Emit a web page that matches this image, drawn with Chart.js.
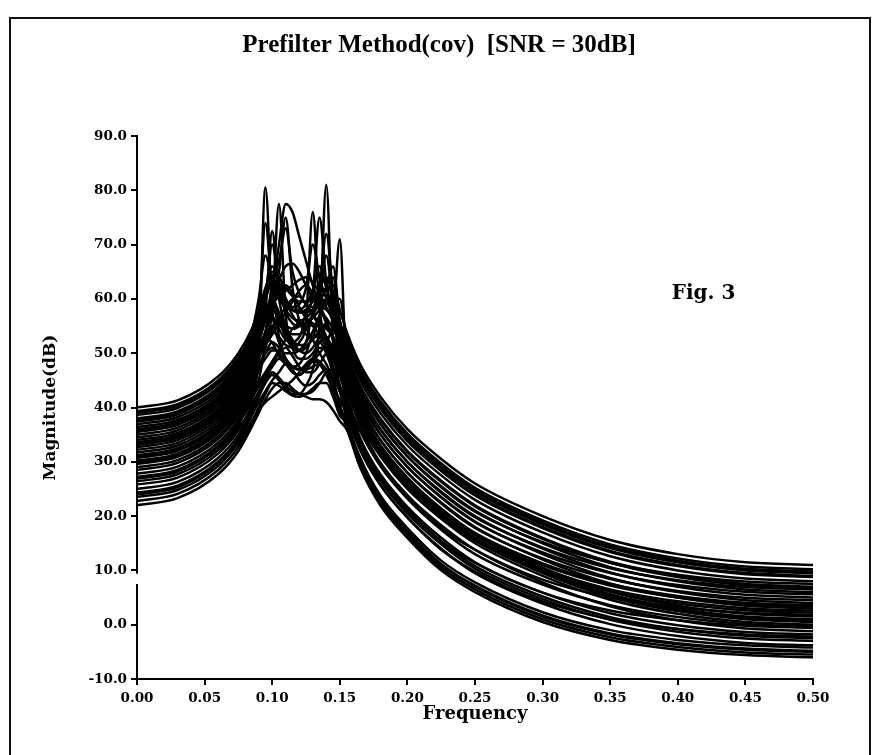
<!DOCTYPE html>
<html><head><meta charset="utf-8">
<script src="https://cdn.jsdelivr.net/npm/chart.js@4.4.1/dist/chart.umd.min.js"></script>
<style>
html,body{margin:0;padding:0;background:#fff;}
#wrap{position:relative;width:878px;height:755px;overflow:hidden;}
#frame{position:absolute;left:9px;top:17px;width:858px;height:780px;border:2px solid #111;border-bottom:none;pointer-events:none;}
canvas{position:absolute;left:0;top:0;}
</style></head>
<body><div id="wrap"><canvas id="c" width="878" height="755"></canvas><div id="frame"></div></div>
<script>
// Frequency grid (shared x values of every curve)
const freq = [0, 0.03, 0.06, 0.075, 0.085, 0.09, 0.095, 0.1, 0.105, 0.11, 0.115, 0.12, 0.125, 0.13, 0.135, 0.14, 0.145, 0.15, 0.155, 0.165, 0.18, 0.2, 0.225, 0.25, 0.3, 0.35, 0.4, 0.45, 0.5];

// Magnitude (dB) of each estimated spectrum
const curve01 = [22, 23.3, 27.7, 32, 36.5, 39, 41.5, 43.5, 44.5, 44.5, 43.5, 42.5, 42, 41.5, 41.5, 41, 39.5, 37.5, 36, 29, 22, 16, 10, 6, 0.5, -2.8, -4.6, -5.6, -6];
const curve02 = [22.8, 24.1, 28.5, 32.8, 37.3, 40, 42.5, 44.5, 44, 43, 42.2, 42, 42.5, 43.5, 44.5, 44.5, 42, 38.5, 37.2, 30.2, 23.2, 17.2, 11.2, 7.2, 1.7, -1.6, -3.4, -4.4, -4.8];
const curve03 = [23.5, 24.8, 29.2, 33.5, 37.5, 39.5, 41, 42, 43, 44, 45, 46.5, 48, 49, 48.5, 46.5, 43, 39.5, 36.5, 29.5, 22.5, 16.5, 10.5, 6.5, 1, -2.3, -4.1, -5.1, -5.5];
const curve04 = [24.3, 25.6, 30, 34.3, 38.8, 42, 45, 46.5, 45.5, 44, 43, 42.5, 42.5, 43, 44.5, 46.5, 47, 43, 38.7, 32.2, 25.7, 19.7, 14, 9.5, 3.9, 0.1, -2.1, -3.35, -3.8];
const curve05 = [25, 26.3, 30.7, 35, 39.5, 42, 44.5, 46, 45, 43.5, 42.5, 42.5, 44, 47, 55, 81, 52, 44, 37.8, 30.8, 23.8, 17.8, 11.8, 7.8, 2.3, -1, -2.8, -3.8, -4.2];
const curve06 = [25.8, 27.1, 31.5, 35.8, 40.3, 43, 45.5, 47.5, 49, 48, 46.5, 46, 47, 48.5, 48, 46, 43.5, 41.5, 39.5, 33.5, 27, 21, 15.3, 10.8, 5.2, 1.4, -0.8, -2.05, -2.5];
const curve07 = [26.4, 27.7, 32.1, 36.4, 41, 50, 80.5, 58, 52, 49, 47.5, 47, 47, 47.5, 48, 47, 44.5, 41, 39.5, 33, 26.5, 20.5, 14.8, 10.3, 4.7, 0.9, -1.3, -2.55, -3];
const curve08 = [27.2, 28.5, 32.9, 37.2, 41.7, 44, 46, 48, 50, 51, 49.5, 47.5, 46.5, 46.5, 48, 50, 50.5, 46, 41.8, 35.8, 29.8, 23.8, 18.3, 13.8, 7.8, 3.4, 0.8, -0.7, -1.2];
const curve09 = [27.8, 29.1, 33.5, 37.8, 42.3, 44.5, 46.5, 48.5, 50.5, 52.5, 54.5, 55.5, 54.5, 52.5, 50, 48, 45.5, 43, 40.7, 34.2, 27.7, 21.7, 16, 11.5, 5.9, 2.1, -0.1, -1.35, -1.8];
const curve10 = [28.5, 29.8, 34.2, 38.5, 43, 47, 51, 58, 77.5, 57, 51, 49, 49, 50, 52, 53, 50, 46, 43, 37, 31, 25, 19.5, 15, 9, 4.6, 2, 0.5, 0];
const curve11 = [29, 30.3, 34.7, 39, 43.5, 47, 50, 52, 51, 49, 47.5, 47, 47.5, 49, 51, 50.5, 47.5, 44, 41.4, 34.4, 27.4, 21.4, 15.4, 11.4, 5.9, 2.6, 0.8, -0.2, -0.6];
const curve12 = [29.6, 30.9, 35.3, 39.6, 44.5, 50, 54, 61, 70, 77.5, 76, 71.5, 67, 62.5, 59, 56, 52.5, 48, 43.8, 37.8, 31.8, 25.8, 20.3, 15.8, 9.8, 5.4, 2.8, 1.3, 0.8];
const curve13 = [30.2, 31.5, 35.9, 40.2, 44.7, 49, 52.5, 52, 49.5, 48, 47.5, 48, 50, 53, 53, 51, 48.5, 46.5, 44.5, 38.5, 32.5, 26.5, 21, 16.5, 10.5, 6.1, 3.5, 2, 1.5];
const curve14 = [30.7, 32, 36.4, 40.7, 45.2, 48, 50, 51, 50, 48.5, 47.5, 47, 47.5, 48.5, 50, 52, 56, 71, 46, 38, 31.5, 25.5, 20, 15.5, 9.5, 5.1, 2.5, 1, 0.5];
const curve15 = [31.2, 32.5, 36.9, 41.2, 45.7, 49, 51.5, 53.5, 55, 54, 52, 50.5, 50, 51, 53, 55, 53, 48.5, 44.7, 38.2, 31.7, 25.7, 20, 15.5, 9.9, 6.1, 3.9, 2.65, 2.2];
const curve16 = [31.7, 33, 37.4, 41.7, 46.2, 49.5, 52, 54, 53, 51.5, 51, 52, 56, 76, 58, 53, 50, 47, 43.8, 36.8, 29.8, 23.8, 17.8, 13.8, 8.3, 5, 3.2, 2.2, 1.8];
const curve17 = [32.2, 33.5, 37.9, 42.2, 46.7, 49.5, 51.5, 53.5, 55.5, 57.5, 59.5, 61.5, 62.5, 61, 58.5, 55.5, 52.5, 49.5, 46, 40, 34, 28, 22.5, 18, 12, 7.6, 5, 3.5, 3];
const curve18 = [32.7, 34, 38.4, 42.7, 47.2, 51, 54, 58, 65, 75, 62, 56, 53.5, 53, 54, 55.5, 55, 50.5, 45.1, 38.6, 32.1, 26.1, 20.4, 15.9, 10.3, 6.5, 4.3, 3.05, 2.6];
const curve19 = [33.1, 34.4, 38.8, 43.1, 47.6, 52, 56, 60, 57.5, 54, 51.5, 50.5, 51, 53, 56.5, 60, 56, 50.5, 47, 41, 35, 29, 23.5, 19, 13, 8.6, 6, 4.5, 4];
const curve20 = [33.6, 34.9, 39.3, 43.6, 48.1, 53, 58, 72.5, 60, 55, 52.5, 51.5, 51.5, 52.5, 54, 55, 53, 49.5, 46.1, 39.6, 33.1, 27.1, 21.4, 16.9, 11.3, 7.5, 5.3, 4.05, 3.6];
const curve21 = [34, 35.3, 39.7, 44, 48.5, 51.5, 53.5, 55, 55.5, 55, 54.5, 55, 57, 61, 75, 63, 56, 51.5, 48, 42, 36, 30, 24.5, 20, 14, 9.6, 7, 5.5, 5];
const curve22 = [34.5, 35.8, 40.2, 44.5, 49, 54, 57.5, 57, 54.5, 52.5, 52, 53, 55.5, 55, 53.5, 52.5, 51, 49, 47, 40.5, 34, 28, 22.3, 17.8, 12.2, 8.4, 6.2, 4.95, 4.5];
const curve23 = [35, 36.3, 40.7, 45, 49.5, 53, 56, 59, 61.5, 62.5, 61, 58.5, 56.5, 55.5, 55, 54.5, 53, 51, 49, 43, 37, 31, 25.5, 21, 15, 10.6, 8, 6.5, 6];
const curve24 = [35.5, 36.8, 41.2, 45.5, 50, 56, 74, 61, 56.5, 54.5, 53.5, 53.5, 54.5, 57, 61, 68, 59, 53, 48.1, 41.6, 35.1, 29.1, 23.4, 18.9, 13.3, 9.5, 7.3, 6.05, 5.6];
const curve25 = [36, 37.3, 41.7, 46, 50.5, 55, 60, 70, 62, 57.5, 55.5, 55, 55.5, 57, 59.5, 62, 66, 56, 50, 44, 38, 32, 26.5, 22, 16, 11.6, 9, 7.5, 7];
const curve26 = [36.4, 37.7, 42.1, 46.4, 51, 54.5, 57.5, 60.5, 63.5, 66, 66.5, 65, 62.5, 60, 58, 56.5, 54.5, 52, 49, 42.5, 36, 30, 24.3, 19.8, 14.2, 10.4, 8.2, 6.95, 6.5];
const curve27 = [36.9, 38.2, 42.6, 46.9, 51.4, 56, 60, 64, 61, 58, 56.5, 56, 56.5, 58, 62, 72, 61, 55, 51, 45, 39, 33, 27.5, 23, 17, 12.6, 10, 8.5, 8];
const curve28 = [37.4, 38.7, 43.1, 47.4, 52, 55.5, 58, 60, 60.5, 59.5, 58.5, 59, 62, 70, 64, 60, 57, 54, 50, 43.5, 37, 31, 25.3, 20.8, 15.2, 11.4, 9.2, 7.95, 7.5];
const curve29 = [38, 39.3, 43.7, 48, 52.5, 57, 61.5, 66, 63, 60, 58, 57.5, 58, 59.5, 62, 64, 61, 56, 51.8, 45.8, 39.8, 33.8, 28.3, 23.8, 17.8, 13.4, 10.8, 9.3, 8.8];
const curve30 = [38.6, 39.9, 44.3, 48.6, 53, 57.5, 61, 64, 67, 73, 65, 61, 59, 58.5, 58.5, 58, 56.5, 54.5, 52.5, 46.5, 40.5, 34.5, 29, 24.5, 18.5, 14.1, 11.5, 10, 9.5];
const curve31 = [39.3, 40.6, 45, 49.3, 54, 60, 68, 63, 60, 58.5, 58, 58, 59, 61.5, 66, 62, 58, 55, 53.2, 47.2, 41.2, 35.2, 29.7, 25.2, 19.2, 14.8, 12.2, 10.7, 10.2];
const curve32 = [40, 41.3, 45.7, 50, 54.5, 58, 62, 65, 64, 62, 60.5, 59.5, 59.5, 60, 61, 62, 62.5, 58, 54, 48, 42, 36, 30.5, 26, 20, 15.6, 13, 11.5, 11];
const curve33 = [31, 32.3, 36.7, 41, 45.5, 49.5, 53.5, 58, 56, 53, 51, 50.5, 52, 57, 55, 52, 49, 46, 44, 38, 32, 26, 20.5, 16, 10, 5.6, 3, 1.5, 1];
const curve34 = [33.3, 34.6, 39, 43.3, 47.8, 50.5, 52.5, 54.5, 56.5, 58.5, 60, 60.5, 59, 57, 55, 53, 51, 48.5, 45.8, 39.3, 32.8, 26.8, 21.1, 16.6, 11, 7.2, 5, 3.75, 3.3];
const curve35 = [29.9, 31.2, 35.6, 39.9, 44.4, 47, 49, 50.5, 50.5, 50, 50, 50.5, 52, 54, 57, 60, 64, 52, 42.2, 35.7, 29.2, 23.2, 17.5, 13, 7.4, 3.6, 1.4, 0.15, -0.3];
const curve36 = [26.9, 28.2, 32.6, 36.9, 41.4, 45, 52, 62, 53, 48.5, 46.5, 46, 47, 49, 52, 50, 46.5, 43, 39.8, 32.8, 25.8, 19.8, 13.8, 9.8, 4.3, 1, -0.8, -1.8, -2.2];
const curve37 = [35.8, 37.1, 41.5, 45.8, 50.3, 54, 57.5, 61, 64, 60, 57, 55.5, 55.5, 56.5, 58, 60, 57.5, 53, 49.8, 43.8, 37.8, 31.8, 26.3, 21.8, 15.8, 11.4, 8.8, 7.3, 6.8];
const curve38 = [37.7, 39, 43.4, 47.7, 52.2, 55.5, 57.5, 59, 60.5, 61.5, 62.5, 63.5, 64, 63, 61, 58.5, 56, 53.5, 52, 46, 40, 34, 28.5, 24, 18, 13.6, 11, 9.5, 9];
const curve39 = [24, 25.3, 29.7, 34, 38.5, 41, 43, 45, 46.5, 48, 47, 45, 44, 44.5, 46, 47, 45, 40.5, 37, 30, 23, 17, 11, 7, 1.5, -1.8, -3.6, -4.6, -5];
const curve40 = [39, 40.3, 44.7, 49, 53.5, 57, 60, 63, 61.5, 59.5, 58, 57.5, 57.5, 58, 58.5, 59, 60, 60, 52.8, 46.8, 40.8, 34.8, 29.3, 24.8, 18.8, 14.4, 11.8, 10.3, 9.8];

const curves = [curve01, curve02, curve03, curve04, curve05, curve06, curve07, curve08,
  curve09, curve10, curve11, curve12, curve13, curve14, curve15, curve16,
  curve17, curve18, curve19, curve20, curve21, curve22, curve23, curve24,
  curve25, curve26, curve27, curve28, curve29, curve30, curve31, curve32,
  curve33, curve34, curve35, curve36, curve37, curve38, curve39, curve40];

// Axis ticks
const xTickValues = [0, 0.05, 0.1, 0.15, 0.2, 0.25, 0.3, 0.35, 0.4, 0.45, 0.5];
const xTickLabels = ['0.00', '0.05', '0.10', '0.15', '0.20', '0.25', '0.30', '0.35', '0.40', '0.45', '0.50'];
const yTickValues = [-10, 0, 10, 20, 30, 40, 50, 60, 70, 80, 90];
const yTickLabels = ['-10.0', '0.0', '10.0', '20.0', '30.0', '40.0', '50.0', '60.0', '70.0', '80.0', '90.0'];

const titleText = 'Prefilter Method(cov)  [SNR = 30dB]';
const xTitle = 'Frequency';
const yTitle = 'Magnitude(dB)';
const figText = 'Fig. 3';
const figPos = {x: 0.3955, y: 61};
const axisBreak = {from: 9.4, to: 7.5};

const serif = "'DejaVu Serif', 'Liberation Serif', serif";
const times = "'Liberation Serif', 'DejaVu Serif', serif";

const datasets = curves.map((arr, i) => ({
  label: 'Spectrum ' + (i + 1),
  data: arr.map((v, j) => ({x: freq[j], y: v})),
  borderColor: '#000',
  borderWidth: 2.5,
  pointRadius: 0,
  fill: false,
  cubicInterpolationMode: 'monotone'
}));

const extras = {
  id: 'extras',
  afterDraw(chart) {
    const {ctx, scales: {x, y}, chartArea} = chart;
    ctx.save();
    // break in the y axis line
    const t = y.getPixelForValue(axisBreak.from);
    const b = y.getPixelForValue(axisBreak.to);
    ctx.fillStyle = '#fff';
    ctx.fillRect(chartArea.left - 3, t, 6, b - t);
    // figure label
    ctx.fillStyle = '#000';
    ctx.font = "bold 20px " + serif;
    ctx.textAlign = 'left';
    ctx.textBaseline = 'middle';
    ctx.fillText(figText, x.getPixelForValue(figPos.x), y.getPixelForValue(figPos.y));
    ctx.restore();
  }
};

new Chart(document.getElementById('c'), {
  type: 'line',
  data: {datasets},
  options: {
    responsive: false,
    animation: false,
    devicePixelRatio: 1,
    layout: {padding: 0},
    plugins: {
      legend: {display: false},
      tooltip: {enabled: false},
      title: {
        display: true, text: titleText, color: '#000',
        font: {family: times, size: 25, weight: 'bold', lineHeight: 1.2},
        padding: {top: 31, bottom: 75}
      }
    },
    scales: {
      x: {
        type: 'linear', min: 0, max: 0.5,
        afterFit: s => { s.height = 76; },
        afterBuildTicks: s => { s.ticks = xTickValues.map(v => ({value: v})); },
        ticks: {
          autoSkip: false, maxRotation: 0, padding: 5, color: '#000',
          font: {family: serif, size: 13.5, weight: 'bold'},
          callback: (v, i) => xTickLabels[i]
        },
        grid: {drawOnChartArea: false, drawTicks: true, tickLength: 6, color: '#000', lineWidth: 2},
        border: {display: true, color: '#000', width: 2},
        title: {display: true, text: xTitle, color: '#000',
          font: {family: serif, size: 18, weight: 'bold', lineHeight: 1.2},
          padding: {top: 0, bottom: 30}}
      },
      y: {
        type: 'linear', min: -10, max: 90,
        afterFit: s => { s.width = 137; },
        afterBuildTicks: s => { s.ticks = yTickValues.map(v => ({value: v})); },
        ticks: {
          autoSkip: false, padding: 4, color: '#000',
          font: {family: serif, size: 13.5, weight: 'bold'},
          callback: (v, i) => yTickLabels[i]
        },
        grid: {drawOnChartArea: false, drawTicks: true, tickLength: 6, color: '#000', lineWidth: 2},
        border: {display: true, color: '#000', width: 2},
        title: {display: true, text: yTitle, color: '#000',
          font: {family: serif, size: 17, weight: 'bold', lineHeight: 1.2},
          padding: {top: 40, bottom: 0}}
      },
      yRightSpace: {
        type: 'linear', position: 'right', display: true,
        afterFit: s => { s.width = 65; },
        ticks: {display: false},
        grid: {display: false, drawTicks: false},
        border: {display: false},
        title: {display: false}
      }
    }
  },
  plugins: [extras]
});
</script>
</body></html>
